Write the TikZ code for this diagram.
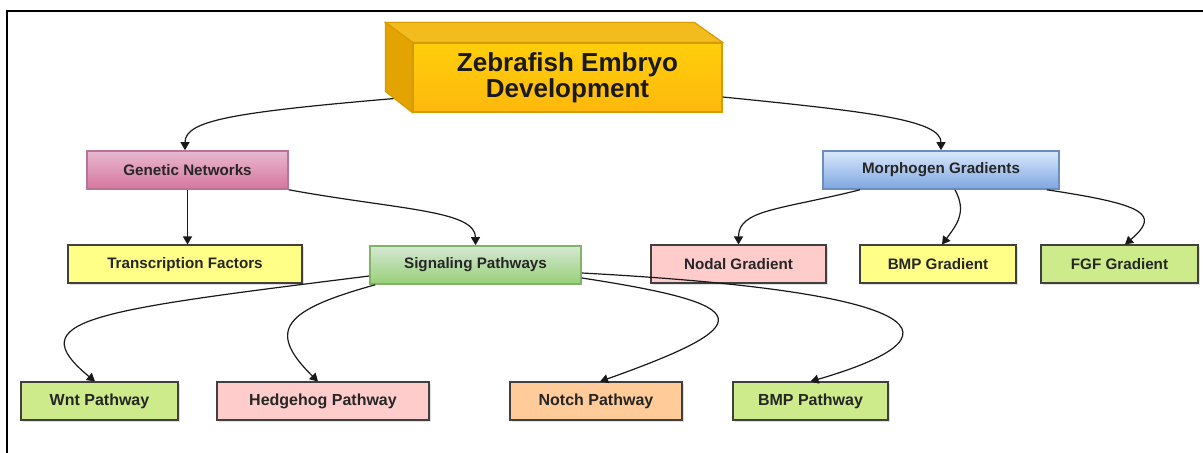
\documentclass[tikz,border=0pt]{standalone}
\usepackage{fontspec}
\setmainfont{Liberation Sans}
\usepackage{xcolor}
\usepackage{tikz}
\usetikzlibrary{arrows.meta, positioning, shadows}

\definecolor{cubefront}{HTML}{FFC20E}
\definecolor{cubetop}{HTML}{F2BC1E}
\definecolor{cubeside}{HTML}{E3A300}
\definecolor{cubeline}{HTML}{D79B00}
\definecolor{boxline}{HTML}{404040}
\definecolor{lightyellow}{HTML}{FFFF88}
\definecolor{lightpink}{HTML}{FFCCCC}
\definecolor{lightgreen}{HTML}{CDEB8B}
\definecolor{lightorange}{HTML}{FFCC99}
\definecolor{pinktop}{HTML}{E8B8CE}
\definecolor{pinkbot}{HTML}{D6769F}
\definecolor{pinkline}{HTML}{B5739D}
\definecolor{bluetop}{HTML}{DAE8FC}
\definecolor{bluebot}{HTML}{7EA6E0}
\definecolor{blueline}{HTML}{6C8EBF}
\definecolor{greentop}{HTML}{D5E8D4}
\definecolor{greenbot}{HTML}{97D077}
\definecolor{greenline}{HTML}{82B366}

\begin{document}
\begin{tikzpicture}[
  x=0.5pt, y=-0.5pt,
  bw/.style={minimum width=#1*0.5pt},
  box/.style={draw=boxline, line width=1pt, minimum height=19pt, inner sep=0pt,
              font=\bfseries\fontsize{7.6}{9}\selectfont, text=black!85,
              drop shadow={shadow xshift=1pt, shadow yshift=-1pt, opacity=0.25}},
  leaf/.style={box, font=\bfseries\fontsize{8}{9}\selectfont},
  grad/.style={draw=#1line, top color=#1top, bottom color=#1bot, line width=0.8pt,
               minimum height=19pt, inner sep=0pt,
               font=\bfseries\fontsize{7.6}{9}\selectfont, text=black!85},
  arr/.style={-{Triangle[length=4pt,width=4.5pt]}, line width=0.6pt, black!90}
]
  \useasboundingbox (0,0) rectangle (1203,453);
  \draw[line width=1pt] (7,453) -- (7,11) -- (1203,11);

  % top level
  \node[minimum width=154.5pt, minimum height=34.5pt, inner sep=0pt, draw=cubeline,
        line width=0.6pt, top color=cubefront!80!yellow, bottom color=cubefront!85!orange,
        align=center, font=\bfseries\fontsize{13}{14}\selectfont, text=black!90]
        (title) at (567.5,77.5) {\raisebox{-3pt}{Zebrafish Embryo}\\Development};

  % second level
  \node[grad=pink, bw=201] (gen) at (187.5,170) {Genetic Networks};
  \node[grad=blue, bw=236] (morph) at (941,170) {Morphogen Gradients};

  % third level
  \node[box, bw=234, fill=lightyellow] (trans) at (185,264.5) {Transcription Factors};
  \node[grad=green, bw=211] (sig) at (475.5,265) {Signaling Pathways};
  \node[box, bw=175, fill=lightpink] (nodal) at (738.5,264.5) {Nodal Gradient};
  \node[box, bw=156, fill=lightyellow] (bmpg) at (938,264.5) {BMP Gradient};
  \node[box, bw=157, fill=lightgreen] (fgf) at (1119.5,264.5) {FGF Gradient};

  % pathways
  \node[leaf, bw=157, fill=lightgreen] (wnt) at (99.5,401.5) {Wnt Pathway};
  \node[leaf, bw=212, fill=lightpink] (hh) at (323,401.5) {Hedgehog Pathway};
  \node[leaf, bw=172, fill=lightorange] (notch) at (596,401.5) {Notch Pathway};
  \node[leaf, bw=155, fill=lightgreen] (bmpp) at (810.5,401.5) {BMP Pathway};

  % connectors
  \draw[arr] ([yshift=-9.75pt]title.west) .. controls +(-180,15) and +(0,-30) .. (gen.north -| trans);
  \draw[arr] ([yshift=-9.75pt]title.east) .. controls +(150,15) and +(0,-30) .. (morph.north);
  \draw[arr] (gen.south) -- (gen.south |- trans.north);
  \draw[arr] (gen.south east) .. controls +(110,20) and +(0,-35) .. (sig.north);
  \draw[arr] ([xshift=-40.5pt]morph.south) .. controls +(-80,20) and +(0,-35) .. (nodal.north);
  \draw[arr] ([xshift=7pt]morph.south) .. controls +(12,22) and +(15,-20) .. ([xshift=2pt]bmpg.north);
  \draw[arr] ([xshift=-6.5pt]morph.south east) .. controls +(100,15) and +(35,-30) .. ([xshift=2.75pt]fgf.north);
  \draw[arr] ([yshift=-5.5pt]sig.west) .. controls +(-280,35) and +(-75,-62) .. ([xshift=-2.25pt]wnt.north);
  \draw[arr] ([xshift=3pt]sig.south west) .. controls +(-90,25) and +(-53,-52) .. ([xshift=-2.5pt]hh.north);
  \draw[arr] ([yshift=-6.5pt]sig.east) .. controls +(177,27) and +(160,-57) .. ([xshift=2pt]notch.north);
  \draw[arr] ([yshift=-4pt]sig.east) .. controls +(317,17) and +(178,-52) .. (bmpp.north);

  % cube faces of the title box
  \draw[cubeline, line width=0.6pt, fill=cubetop]
    (title.north west) -- ++(-27,-20) -- ++(309,0) -- (title.north east) -- cycle;
  \draw[cubeline, line width=0.6pt, fill=cubeside]
    (title.north west) -- ++(-27,-20) -- ++(0,69) -- (title.south west) -- cycle;
\end{tikzpicture}
\end{document}
